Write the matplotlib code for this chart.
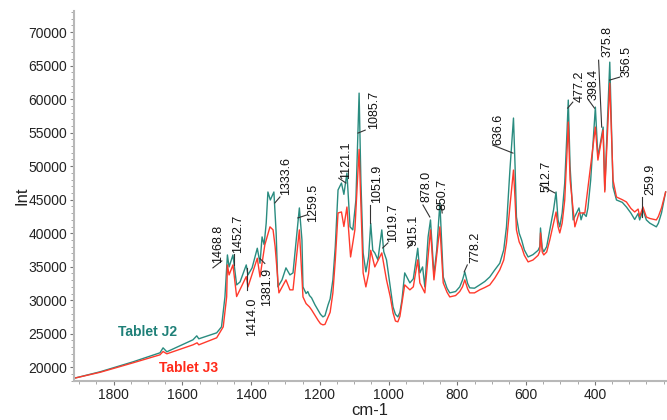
import matplotlib
matplotlib.use("Agg")
import matplotlib.pyplot as plt
from matplotlib.ticker import MultipleLocator

# ---------------- data ----------------
j2_wn = [1915, 1839, 1743, 1665, 1656, 1645, 1569, 1558, 1552, 1500, 1486, 1476,
         1468.8, 1464, 1452.7, 1442, 1432, 1414.0, 1409, 1397, 1381.9, 1374, 1368, 1362,
         1356, 1351, 1344, 1333.6, 1327, 1322, 1310, 1298.5, 1287, 1278, 1259.5, 1252,
         1249, 1240, 1235, 1230, 1224, 1214, 1205, 1198, 1191, 1185, 1176, 1170, 1162,
         1155, 1147, 1137, 1130, 1121.1, 1112, 1104, 1095, 1085.7, 1080.5, 1074, 1066,
         1058, 1051.9, 1046, 1040, 1031, 1019.7, 1014, 1006, 995, 987, 980, 973, 967,
         961, 953, 938, 928, 915.1, 909, 901, 894.5, 885, 878.0, 868, 860, 850.7, 841,
         830, 822, 805, 793, 785, 778.2, 770, 764, 750, 735, 720, 705.5, 691, 676.5,
         665, 657, 647, 636.6, 632, 628, 620, 613, 605, 594, 580, 565, 560, 558, 553,
         548.5, 540, 531, 520, 512.7, 507, 502, 495, 487.5, 481, 477.2, 472, 463, 446,
         440, 434, 425, 420, 412, 398.4, 391, 375.8, 371, 356.5, 347, 337, 320, 308,
         295, 284, 274, 269.5, 259.9, 250, 240, 221, 215, 206, 194]
j2_int = [18360, 19330, 20820, 22160, 22900, 22310, 24100, 24690, 24250, 25140, 26030, 30500,
          36760, 34970, 36760, 32290, 32740, 35270, 33780, 34830, 37760, 35520, 39450, 38300,
          41500, 46150, 44960, 46150, 40000, 32000, 33040, 34830, 33780, 34080, 43770, 39000,
          32000, 31000, 31300, 30700, 30360, 29310, 28500, 27900, 27520, 27700, 29310, 30200, 33040,
          38000, 46450, 47490, 45800, 48980, 40950, 40500, 44960, 60900, 47800, 37060, 34230,
          36500, 41460, 37450, 37060, 36030, 40500, 37240, 36030, 32000, 29000, 27900, 27520, 28200,
          30060, 34080, 32590, 33200, 37760, 34080, 34970, 32000, 39450, 41980, 33780, 37450, 44510, 33480,
          31800, 31100, 31300, 32000, 33000, 34230, 32500, 31850, 31800, 32290, 32800, 33480, 34530, 35520,
          37500, 40950, 49420, 57180, 50000, 42420, 40000, 39000, 37500, 36460, 36800, 37450, 38000, 40780, 37800,
          37240, 38000, 40500, 43500, 46150, 42000, 40950, 43000, 47490, 55000, 59860, 50000, 41980, 43770,
          42000, 43020, 42500, 43770, 47940, 58810, 51360, 55830, 46450, 65520, 46890, 44960, 44600, 43910,
          43000, 42050, 42940, 41980, 43480, 41980, 41500, 40950, 41500, 43020, 46150]

j3_wn = [1915, 1839, 1743, 1665, 1656, 1645, 1569, 1557, 1552, 1500, 1481, 1471,
         1468.8, 1464, 1452.7, 1442, 1414.0, 1409, 1381.9, 1374, 1360, 1345, 1336,
         1330, 1319, 1298.5, 1287, 1278, 1259.5, 1249, 1240, 1230, 1224, 1205, 1198, 1191,
         1185, 1170, 1162, 1155, 1147, 1137, 1130, 1121.1, 1110.5, 1098, 1085.7, 1074, 1066,
         1058, 1051.9, 1040, 1019.7, 1006, 995, 987, 980, 973, 967, 953, 938, 928, 915.1,
         909, 894.5, 878.0, 868, 850.7, 841, 830, 822, 805, 793, 785, 778.2, 770, 764, 750,
         735, 720, 705.5, 691, 676.5, 665, 657, 647, 636.6, 632, 628, 620, 613, 605, 594,
         580, 565, 560, 558, 553, 548.5, 540, 531, 520, 512.7, 507, 502, 495, 487.5, 481,
         477.2, 472, 458, 446, 429, 398.4, 391, 375.8, 371, 356.5, 347, 337, 320, 308, 295,
         284, 274, 269.5, 259.9, 250, 240, 221, 215, 206, 194]
j3_int = [18360, 19255, 20670, 21860, 22350, 22010, 23350, 23650, 23350, 24400, 26030, 30500,
          35270, 33780, 35270, 30550, 33530, 31990, 36270, 33480, 38250, 40950, 40500,
          38000, 31100, 33040, 31550, 31550, 40500, 30500, 29500, 29000, 28570, 27000, 26500, 26330,
          26400, 28200, 31100, 36000, 43020, 43170, 41000, 43910, 36460, 40500, 52500, 34080, 31990,
          34000, 37450, 34970, 37060, 33040, 30500, 28120, 26900, 26780, 27600, 32290, 31550, 32000, 36030,
          32590, 31100, 40500, 33040, 40950, 32590, 31200, 30500, 30700, 31300, 32000, 33040, 31700, 31100, 31100,
          31550, 31900, 32290, 33300, 34530, 36000, 38550, 44000, 49420, 45000, 40500, 38700, 37950, 36700, 35720,
          36000, 36700, 37300, 40040, 37200, 36760, 37200, 39000, 41500, 43170, 41000, 40040, 41500, 44960, 52000,
          56580, 48000, 40950, 43020, 43020, 55830, 50910, 55380, 46150, 62390, 47940, 45400, 45000, 44660, 43700,
          43170, 43600, 42500, 43910, 42420, 42200, 41980, 42500, 43770, 46150]

peak_labels = ["1468.8", "1452.7", "1414.0", "1381.9", "1333.6", "1259.5", "1121.1",
               "1085.7", "1051.9", "1019.7", "915.1", "878.0", "850.7", "778.2",
               "636.6", "512.7", "477.2", "398.4", "375.8", "356.5", "259.9"]

x_ticks = [1800, 1600, 1400, 1200, 1000, 800, 600, 400]
y_ticks = [20000, 25000, 30000, 35000, 40000, 45000, 50000, 55000, 60000, 65000, 70000]
series_names = ["Tablet J2", "Tablet J3"]

# ---------------- label placement (x, bottom y) and leader segments ----------------
label_pos = [(1496, 35570), (1438, 37060), (1397, 24690), (1354, 29160), (1299, 45700),
             (1220, 41680), (1124, 48070), (1043, 55530), (1034, 44510), (988, 38700),
             (929, 38100), (889, 44660), (842, 43470), (749, 35570), (682, 53150),
             (540, 46150), (444, 59560), (403, 59860), (363, 66260), (307, 63280),
             (240, 45700)]
leaders = [((1511, 34830), (1485, 35870)), ((1451, 36910), (1451, 35270)),
           ((1413, 34830), (1413, 31550)), ((1374, 36220), (1360, 35490)),
           ((1331, 44510), (1316, 45400)), ((1264, 42280), (1238, 42720)),
           ((1145, 48220), (1124, 47490)), ((1089, 54940), (1068, 55380)),
           ((1054, 44210), (1054, 41530)), ((1017, 37800), (1002, 38550)),
           ((944, 37800), (930, 38700)), ((900, 44210), (880, 42420)),
           ((844, 43020), (847, 44210)), ((771, 35270), (780, 34230)),
           ((697, 53150), (638, 51950)), ((560, 47190), (516, 46000)),
           ((479, 58660), (464, 59560)), ((418, 59860), (401, 58660)),
           ((389, 65810), (380, 55830)), ((357, 62840), (328, 63280)),
           ((262, 45400), (262, 42420))]

teal = "#2a8c80"
red = "#ff3a2c"

plt.rcParams['font.family'] = ['Liberation Sans', 'DejaVu Sans']

fig = plt.figure(figsize=(6.67, 4.2), dpi=100)
ax = fig.add_axes([0.111, 0.0936, 0.889, 0.881])

ax.plot(j2_wn, j2_int, color=teal, lw=1.0)
ax.plot(j3_wn, j3_int, color=red, lw=1.0)

for (x0, y0), (x1, y1) in leaders:
    ax.plot([x0, x1], [y0, y1], color="#333333", lw=0.8)
for txt, (lx, ly) in zip(peak_labels, label_pos):
    ax.text(lx, ly, txt, rotation=90, ha="center", va="bottom", fontsize=9, color="#111111")

ax.text(1702, 25290, series_names[0], color="#1f8078", fontsize=10, fontweight="bold",
        ha="center", va="center")
ax.text(1583, 19930, series_names[1], color="#ff2a1a", fontsize=10, fontweight="bold",
        ha="center", va="center")

ax.set_xlim(1915, 190)
ax.set_ylim(18000, 73200)
ax.set_xticks(x_ticks)
ax.set_yticks(y_ticks)
ax.xaxis.set_minor_locator(MultipleLocator(50))
ax.yaxis.set_minor_locator(MultipleLocator(1000))

for s in ["top", "right"]:
    ax.spines[s].set_visible(False)
for s in ["left", "bottom"]:
    ax.spines[s].set_color("#b8b8b8")
    ax.spines[s].set_linewidth(1.5)

ax.tick_params(which="major", length=3, width=0.8, color="#777777", labelsize=10,
               labelcolor="#222222", pad=2)
ax.tick_params(which="minor", length=2, width=0.6, color="#999999")

ax.set_xlabel("cm-1", fontsize=12, color="#222222")
ax.set_ylabel("Int", fontsize=12, color="#222222")
ax.xaxis.set_label_coords(0.499, -0.060)
ax.yaxis.set_label_coords(-0.075, 0.5)

fig.savefig("out.png", dpi=100)
